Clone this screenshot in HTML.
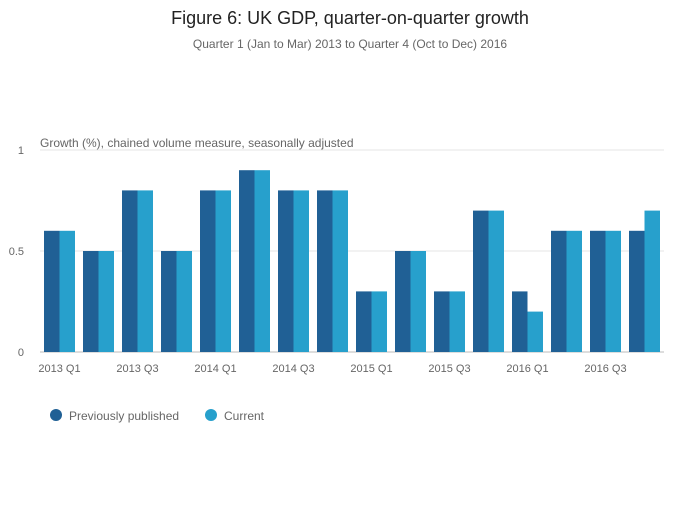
<!DOCTYPE html>
<html><head><meta charset="utf-8"><style>
body{margin:0;background:#fff;font-family:"Liberation Sans",sans-serif;}
</style></head><body>
<svg id="chart" width="700" height="502" xmlns="http://www.w3.org/2000/svg">
<text x="350" y="24" text-anchor="middle" font-size="18" fill="#222">Figure 6: UK GDP, quarter-on-quarter growth</text>
<text x="350" y="48" text-anchor="middle" font-size="12" fill="#666">Quarter 1 (Jan to Mar) 2013 to Quarter 4 (Oct to Dec) 2016</text>
<text x="40" y="147" font-size="12" fill="#666">Growth (%), chained volume measure, seasonally adjusted</text>
<g id="grid"></g><g id="bars"></g><g id="xlabels"></g>
<g>
<circle cx="56" cy="415" r="6" fill="#206095"/>
<text x="69" y="420" font-size="12" fill="#666">Previously published</text>
<circle cx="211" cy="415" r="6" fill="#27a0cc"/>
<text x="224" y="420" font-size="12" fill="#666">Current</text>
</g>
</svg>
<script>
const categories=["2013 Q1","2013 Q2","2013 Q3","2013 Q4","2014 Q1","2014 Q2","2014 Q3","2014 Q4","2015 Q1","2015 Q2","2015 Q3","2015 Q4","2016 Q1","2016 Q2","2016 Q3","2016 Q4"];
const previous=[0.6,0.5,0.8,0.5,0.8,0.9,0.8,0.8,0.3,0.5,0.3,0.7,0.3,0.6,0.6,0.6];
const current=[0.6,0.5,0.8,0.5,0.8,0.9,0.8,0.8,0.3,0.5,0.3,0.7,0.2,0.6,0.6,0.7];
const yTicks=[0,0.5,1];
const yTickLabels=["0","0.5","1"];
const ns="http://www.w3.org/2000/svg";
const L=40,R=664,T=150,B=352;
const y=v=>B-(v/1)*(B-T);
const bw=(R-L)/categories.length;
const x=i=>L+i*bw;
function mk(tag,attrs,parent){const e=document.createElementNS(ns,tag);for(const k in attrs)e.setAttribute(k,attrs[k]);parent.appendChild(e);return e;}
const grid=document.getElementById('grid'),bars=document.getElementById('bars'),xl=document.getElementById('xlabels');
yTicks.forEach((t,i)=>{
 const ln=mk('line',{x1:L,x2:R,y1:y(t),y2:y(t),stroke:t===0?'#bbb':'#e6e6e6','stroke-width':1},grid);
 
 
 const tx=mk('text',{x:24,y:y(t)+4,'text-anchor':'end','font-size':11,fill:'#666'},grid);
 tx.textContent=yTickLabels[i];
 
 
});
const pad=4,w=(bw-2*pad)/2;
categories.forEach((c,i)=>{
 const r1=mk('rect',{x:x(i)+pad,y:y(previous[i]),width:w,height:y(0)-y(previous[i]),fill:'#206095'},bars);
 
 
 const r2=mk('rect',{x:x(i)+pad+w,y:y(current[i]),width:w,height:y(0)-y(current[i]),fill:'#27a0cc'},bars);
 
 
 if(i%2===0){
  const t=mk('text',{x:x(i)+bw/2,y:372,'text-anchor':'middle','font-size':11,fill:'#666'},xl);
  t.textContent=c;
  
  
 }
});
</script>
</body></html>
